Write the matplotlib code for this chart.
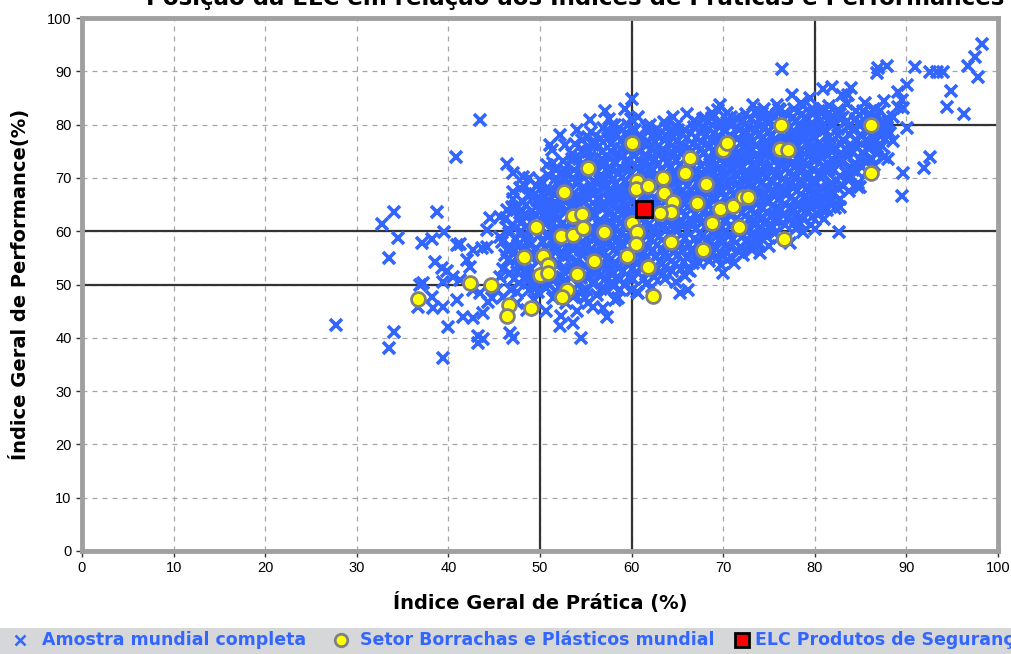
import matplotlib
matplotlib.use("Agg")
import matplotlib.pyplot as plt
from matplotlib.lines import Line2D
from matplotlib.patches import Rectangle

# ---- data ----
# amostra mundial completa: scattered points
amostra_dispersa = [
    (27.7, 42.4), (32.8, 61.3), (34.1, 63.6), (33.5, 55.0), (34.5, 58.7), (33.5, 38.1), (34.1, 41.1),
    (36.7, 45.8), (36.9, 49.9), (37.2, 50.3), (37.1, 57.8), (38.2, 58.5), (38.8, 63.6), (39.5, 59.8),
    (38.5, 54.2), (39.3, 53.1), (39.8, 52.5), (38.2, 47.7), (38.3, 45.6), (39.4, 45.8), (39.4, 36.2),
    (40.0, 42.0), (40.9, 47.1), (40.5, 51.4), (41.3, 50.8), (39.4, 50.5), (40.9, 57.4), (41.3, 57.6),
    (40.8, 73.9), (43.4, 80.9), (41.6, 43.9), (42.7, 43.7), (43.8, 44.7), (43.2, 40.4), (43.8, 39.8),
    (43.2, 39.0), (42.0, 54.6), (42.4, 53.3), (42.7, 56.5), (43.7, 56.8), (44.2, 57.0), (42.7, 49.0),
    (43.4, 48.4), (44.3, 46.7), (44.8, 47.5), (45.3, 49.0), (46.0, 47.7), (47.5, 46.5), (48.6, 45.2),
    (46.7, 40.9), (47.1, 40.0), (44.5, 62.5), (45.6, 62.7), (46.4, 64.0), (44.2, 60.2), (45.6, 58.9),
    (46.4, 56.5), (47.5, 55.2), (47.1, 67.4), (47.8, 68.1), (49.7, 65.9), (50.5, 65.3), (46.4, 72.6),
    (47.1, 70.9), (48.1, 70.2), (50.0, 69.6), (50.8, 72.4), (51.4, 72.8), (52.9, 71.1), (51.1, 76.2),
    (51.3, 75.2), (52.2, 78.0), (52.7, 76.2), (54.0, 79.0), (55.5, 80.9), (55.2, 77.7), (54.7, 75.2),
    (55.2, 74.9), (57.1, 82.6), (58.2, 79.9), (57.3, 78.6), (60.0, 84.8), (60.0, 79.0), (60.7, 81.4),
    (62.0, 79.9), (61.7, 79.5), (65.1, 79.0), (52.2, 42.2), (53.6, 42.8), (54.5, 40.0), (55.8, 45.8),
    (57.3, 43.9), (57.9, 49.9), (58.7, 49.0), (60.7, 48.4), (53.6, 47.7), (58.2, 47.1), (60.0, 49.0),
    (65.3, 48.4), (66.2, 49.0), (66.2, 52.7), (70.0, 52.2), (70.4, 54.6), (73.1, 56.5), (74.0, 55.9),
    (75.4, 60.8), (78.4, 61.5), (77.3, 57.8), (82.6, 59.8), (82.8, 64.5), (82.2, 64.3), (81.7, 65.3),
    (80.8, 65.5), (84.7, 68.3), (83.6, 70.0), (84.2, 71.5), (84.9, 68.3), (85.1, 74.7), (86.8, 75.8),
    (85.9, 76.7), (87.9, 79.5), (87.8, 78.6), (90.1, 79.4), (89.6, 70.9), (89.5, 66.6), (92.6, 73.9),
    (91.9, 71.9), (80.9, 86.7), (81.9, 87.0), (83.0, 85.6), (83.6, 85.6), (84.0, 86.9), (86.8, 89.7),
    (86.9, 90.6), (87.9, 91.0), (90.9, 90.8), (92.6, 89.9), (93.3, 89.9), (94.0, 89.9), (90.1, 87.4),
    (89.1, 86.1), (89.5, 84.6), (89.6, 83.1), (89.1, 83.3), (94.9, 86.3), (94.4, 83.3), (96.3, 82.0),
    (96.7, 91.0), (97.5, 92.7), (98.3, 95.1), (97.8, 88.9), (76.4, 90.4), (69.7, 83.7), (70.4, 82.2),
    (69.4, 82.7), (73.3, 83.7), (72.2, 80.9), (74.2, 82.2), (75.9, 83.7), (76.2, 82.7), (67.1, 80.3),
    (68.0, 81.2), (68.8, 82.2), (63.5, 80.5), (64.5, 81.5), (66.0, 82.0), (57.5, 81.0), (59.3, 83.0),
    (71.2, 54.0), (72.2, 55.5), (75.0, 57.2), (76.1, 58.7), (78.7, 59.8), (79.6, 61.2), (81.0, 62.3),
    (80.0, 60.5), (80.5, 82.5), (81.5, 83.5), (82.5, 82.8), (83.5, 83.8), (84.5, 82.5), (85.5, 84.0),
    (86.5, 83.0), (87.5, 84.5), (79.5, 85.0), (78.5, 84.0), (77.5, 85.5), (85.0, 80.0), (86.0, 82.0),
    (88.5, 81.5), (88.5, 77.0), (86.5, 72.5), (87.5, 74.0), (88.0, 73.5),
]

# amostra mundial completa: dense core
amostra_nucleo = [
    (46.2, 55.5), (45.8, 58.0), (46.5, 60.5), (46.0, 53.0), (46.8, 49.0), (45.6, 51.5), (46.3, 62.5),
    (47.1, 56.0), (47.4, 58.5), (46.9, 61.0), (47.6, 53.5), (47.2, 51.0), (47.8, 63.5), (47.0, 66.0), (47.5, 48.5),
    (48.2, 54.0), (48.0, 56.5), (48.5, 59.0), (47.9, 61.5), (48.3, 63.0), (48.6, 51.5), (48.1, 65.5), (48.4, 68.5), (48.8, 49.0),
    (49.0, 53.0), (49.3, 55.5), (48.9, 57.5), (49.4, 60.0), (49.1, 62.0), (49.6, 64.5), (49.2, 50.5), (49.5, 67.0), (48.8, 70.0), (49.3, 47.0),
    (50.1, 51.0), (50.4, 53.5), (49.9, 56.0), (50.3, 58.0), (50.0, 60.5), (50.5, 62.5), (50.2, 64.0), (50.6, 66.5), (49.8, 48.5), (50.3, 69.0), (50.7, 45.0),
    (51.0, 50.0), (51.3, 52.5), (51.1, 55.0), (51.5, 57.0), (50.9, 59.5), (51.4, 61.5), (51.2, 63.5), (51.6, 65.5), (51.0, 67.5), (51.4, 47.5), (51.8, 70.0),
    (52.1, 49.5), (52.4, 51.5), (52.0, 54.0), (52.5, 56.0), (52.2, 58.0), (52.6, 60.5), (52.0, 62.5), (52.3, 64.5), (52.7, 66.5), (52.1, 68.5), (52.5, 71.0), (52.8, 46.5), (52.3, 44.0),
    (53.0, 50.5), (53.4, 53.0), (53.1, 55.5), (53.6, 57.5), (53.2, 59.5), (53.5, 61.5), (53.0, 64.0), (53.7, 66.0), (53.3, 68.0), (53.6, 70.0), (53.1, 72.5), (53.8, 48.0), (53.5, 74.5),
    (54.1, 50.0), (54.4, 52.5), (54.0, 54.5), (54.5, 56.5), (54.2, 58.5), (54.7, 60.5), (54.1, 62.5), (54.4, 65.0), (54.8, 67.0), (54.2, 69.0), (54.6, 71.0), (54.3, 73.5), (54.9, 47.5), (54.0, 45.0),
    (55.1, 49.0), (55.4, 51.5), (55.0, 53.5), (55.6, 55.5), (55.2, 57.5), (55.5, 59.5), (55.0, 62.0), (55.7, 64.0), (55.3, 66.0), (55.6, 68.0), (55.1, 70.5), (55.8, 72.5), (55.4, 75.0), (55.2, 46.5), (55.9, 77.0),
    (56.0, 50.5), (56.3, 52.5), (56.1, 55.0), (56.6, 57.0), (56.2, 59.0), (56.5, 61.0), (56.0, 63.0), (56.7, 65.0), (56.3, 67.5), (56.6, 69.5), (56.1, 71.5), (56.8, 73.5), (56.4, 76.0), (56.2, 48.0), (56.9, 45.5),
    (57.1, 51.0), (57.4, 53.5), (57.0, 56.0), (57.5, 58.0), (57.2, 60.0), (57.6, 62.0), (57.1, 64.5), (57.7, 66.5), (57.3, 68.5), (57.6, 70.5), (57.0, 72.5), (57.8, 75.0), (57.4, 77.5), (57.2, 49.0), (57.9, 80.0),
    (58.0, 52.0), (58.3, 54.0), (58.1, 56.5), (58.6, 58.5), (58.2, 60.5), (58.5, 62.5), (58.0, 65.0), (58.7, 67.0), (58.3, 69.0), (58.6, 71.0), (58.1, 73.0), (58.8, 75.5), (58.4, 78.0), (58.2, 50.0), (58.5, 47.5),
    (59.1, 52.5), (59.4, 55.0), (59.0, 57.0), (59.5, 59.0), (59.2, 61.0), (59.6, 63.5), (59.1, 65.5), (59.7, 67.5), (59.3, 69.5), (59.6, 72.0), (59.0, 74.0), (59.8, 76.0), (59.4, 78.5), (59.2, 50.0), (59.9, 81.0),
    (60.0, 53.0), (60.3, 55.0), (60.1, 57.5), (60.6, 59.5), (60.2, 61.5), (60.5, 63.5), (60.0, 66.0), (60.7, 68.0), (60.3, 70.0), (60.6, 72.0), (60.1, 74.5), (60.8, 76.5), (60.4, 79.0), (60.2, 51.0), (60.6, 48.5),
    (61.1, 53.5), (61.4, 56.0), (61.0, 58.0), (61.5, 60.0), (61.2, 62.5), (61.6, 64.5), (61.1, 66.5), (61.7, 68.5), (61.3, 70.5), (61.6, 73.0), (61.0, 75.0), (61.8, 77.0), (61.4, 51.0),
    (62.0, 54.0), (62.3, 56.5), (62.1, 58.5), (62.6, 60.5), (62.2, 63.0), (62.5, 65.0), (62.0, 67.0), (62.7, 69.0), (62.3, 71.5), (62.6, 73.5), (62.1, 75.5), (62.8, 78.0), (62.4, 51.5), (62.2, 49.5),
    (63.1, 54.5), (63.4, 56.5), (63.0, 59.0), (63.5, 61.0), (63.2, 63.0), (63.6, 65.5), (63.1, 67.5), (63.7, 69.5), (63.3, 71.5), (63.6, 74.0), (63.0, 76.0), (63.8, 78.0), (63.4, 52.0),
    (64.0, 55.0), (64.3, 57.0), (64.1, 59.5), (64.6, 61.5), (64.2, 63.5), (64.5, 66.0), (64.0, 68.0), (64.7, 70.0), (64.3, 72.0), (64.6, 74.5), (64.1, 76.5), (64.8, 78.5), (64.4, 52.5), (64.9, 50.5),
    (65.1, 55.5), (65.4, 57.5), (65.0, 60.0), (65.5, 62.0), (65.2, 64.0), (65.6, 66.5), (65.1, 68.5), (65.7, 70.5), (65.3, 72.5), (65.6, 75.0), (65.0, 77.0), (65.8, 79.0), (65.4, 53.0),
    (66.0, 55.0), (66.3, 57.5), (66.1, 60.0), (66.6, 62.0), (66.2, 64.5), (66.5, 66.5), (66.0, 68.5), (66.7, 71.0), (66.3, 73.0), (66.6, 75.0), (66.1, 77.5), (66.8, 79.5), (66.4, 52.5),
    (67.1, 56.0), (67.4, 58.0), (67.0, 60.5), (67.5, 62.5), (67.2, 64.5), (67.6, 67.0), (67.1, 69.0), (67.7, 71.0), (67.3, 73.5), (67.6, 75.5), (67.0, 77.5), (67.8, 79.5), (67.4, 54.0),
    (68.0, 56.5), (68.3, 58.5), (68.1, 61.0), (68.6, 63.0), (68.2, 65.0), (68.5, 67.5), (68.0, 69.5), (68.7, 71.5), (68.3, 73.5), (68.6, 76.0), (68.1, 78.0), (68.8, 80.0), (68.4, 54.5),
    (69.1, 57.0), (69.4, 59.5), (69.0, 61.5), (69.5, 63.5), (69.2, 66.0), (69.6, 68.0), (69.1, 70.0), (69.7, 72.0), (69.3, 74.5), (69.6, 76.5), (69.0, 78.5), (69.8, 80.5), (69.4, 55.0),
    (70.0, 58.0), (70.3, 60.0), (70.1, 62.0), (70.6, 64.5), (70.2, 66.5), (70.5, 68.5), (70.0, 70.5), (70.7, 73.0), (70.3, 75.0), (70.6, 77.0), (70.1, 79.0), (70.8, 81.5), (70.4, 56.0),
    (71.1, 58.5), (71.4, 60.5), (71.0, 63.0), (71.5, 65.0), (71.2, 67.0), (71.6, 69.0), (71.1, 71.5), (71.7, 73.5), (71.3, 75.5), (71.6, 77.5), (71.0, 80.0), (71.8, 57.0),
    (72.0, 59.0), (72.3, 61.0), (72.1, 63.5), (72.6, 65.5), (72.2, 67.5), (72.5, 70.0), (72.0, 72.0), (72.7, 74.0), (72.3, 76.0), (72.6, 78.5), (72.1, 80.5), (72.8, 57.5),
    (73.1, 59.5), (73.4, 62.0), (73.0, 64.0), (73.5, 66.0), (73.2, 68.5), (73.6, 70.5), (73.1, 72.5), (73.7, 74.5), (73.3, 77.0), (73.6, 79.0), (73.0, 81.0), (73.8, 58.0),
    (74.0, 60.5), (74.3, 62.5), (74.1, 64.5), (74.6, 67.0), (74.2, 69.0), (74.5, 71.0), (74.0, 73.0), (74.7, 75.5), (74.3, 77.5), (74.6, 79.5), (74.1, 81.5), (74.8, 59.0),
    (75.1, 61.0), (75.4, 63.0), (75.0, 65.5), (75.5, 67.5), (75.2, 69.5), (75.6, 71.5), (75.1, 74.0), (75.7, 76.0), (75.3, 78.0), (75.6, 80.0), (75.0, 82.0),
    (76.0, 62.0), (76.3, 64.0), (76.1, 66.0), (76.6, 68.0), (76.2, 70.5), (76.5, 72.5), (76.0, 74.5), (76.7, 76.5), (76.3, 78.5), (76.6, 81.0), (76.1, 83.0),
    (77.1, 62.5), (77.4, 64.5), (77.0, 67.0), (77.5, 69.0), (77.2, 71.0), (77.6, 73.0), (77.1, 75.5), (77.7, 77.5), (77.3, 79.5), (77.6, 81.5), (77.9, 60.5),
    (78.0, 63.0), (78.3, 65.0), (78.1, 67.5), (78.6, 69.5), (78.2, 71.5), (78.5, 74.0), (78.0, 76.0), (78.7, 78.0), (78.3, 80.0), (78.6, 82.0), (78.2, 61.0),
    (79.1, 64.0), (79.4, 66.0), (79.0, 68.0), (79.5, 70.5), (79.2, 72.5), (79.6, 74.5), (79.1, 76.5), (79.7, 79.0), (79.3, 81.0), (79.8, 83.0),
    (80.0, 65.0), (80.3, 67.0), (80.1, 69.0), (80.6, 71.0), (80.2, 73.5), (80.5, 75.5), (80.0, 77.5), (80.7, 79.5), (80.3, 81.5), (80.4, 63.0),
    (81.1, 66.0), (81.4, 68.0), (81.0, 70.5), (81.5, 72.5), (81.2, 74.5), (81.6, 76.5), (81.1, 79.0), (81.7, 81.0), (81.3, 64.0),
    (82.0, 67.0), (82.3, 69.5), (82.1, 71.5), (82.6, 73.5), (82.2, 75.5), (82.5, 78.0), (82.0, 80.0), (82.7, 82.0),
    (83.1, 68.5), (83.4, 71.0), (83.0, 73.0), (83.5, 75.0), (83.2, 77.0), (83.6, 79.5), (83.1, 81.5),
    (84.0, 70.0), (84.3, 72.5), (84.1, 75.0), (84.6, 77.0), (84.2, 79.0), (84.5, 81.0),
    (85.1, 72.0), (85.4, 74.5), (85.0, 78.0), (85.6, 80.5), (85.3, 82.5),
    (86.2, 73.5), (86.5, 77.5), (86.0, 79.0), (86.8, 81.5),
    (87.3, 76.0), (87.6, 79.5), (87.1, 82.5), (87.8, 80.0),
    (88.2, 78.5), (88.0, 80.5),
]

# amostra mundial completa: dense core, in-between points
amostra_nucleo_b = [
    (46.7, 52.2), (46.5, 54.6), (46.8, 57.1), (46.6, 59.7), (46.9, 64.6),
    (47.7, 50.2), (47.5, 52.4), (47.8, 55.0), (47.6, 57.4), (47.9, 60.1), (47.7, 62.4), (47.5, 64.8),
    (48.7, 50.6), (48.5, 52.8), (48.8, 55.3), (48.6, 57.9), (48.9, 60.4), (48.7, 62.8), (48.5, 64.9), (48.8, 66.9),
    (49.7, 49.6), (49.5, 52.0), (49.8, 54.4), (49.6, 56.8), (49.9, 59.2), (49.7, 61.4), (49.5, 63.3), (49.8, 65.7), (49.6, 68.4),
    (50.7, 49.3), (50.5, 51.8), (50.8, 54.5), (50.6, 56.9), (50.9, 59.0), (50.7, 61.3), (50.5, 63.4), (50.8, 65.5), (50.6, 67.8), (50.9, 70.6),
    (51.7, 48.7), (51.5, 51.2), (51.8, 53.6), (51.6, 56.1), (51.9, 58.4), (51.7, 60.5), (51.5, 62.6), (51.8, 64.7), (51.6, 66.7), (51.9, 68.9), (51.7, 71.4),
    (52.7, 48.3), (52.5, 50.5), (52.8, 52.9), (52.6, 55.2), (52.9, 57.2), (52.7, 59.4), (52.5, 61.6), (52.8, 63.6), (52.6, 65.6), (52.9, 67.7), (52.7, 69.8), (52.5, 73.1),
    (53.7, 49.2), (53.5, 51.7), (53.8, 54.1), (53.6, 56.4), (53.9, 58.6), (53.7, 60.6), (53.5, 62.8), (53.8, 65.0), (53.6, 67.0), (53.9, 69.1), (53.7, 71.4), (53.5, 73.6), (53.8, 76.3),
    (54.7, 48.8), (54.5, 51.2), (54.8, 53.5), (54.6, 55.6), (54.9, 57.6), (54.7, 59.4), (54.5, 61.6), (54.8, 64.0), (54.6, 66.1), (54.9, 68.1), (54.7, 70.2), (54.5, 72.4), (54.8, 74.5), (54.6, 77.2),
    (55.7, 50.2), (55.5, 52.5), (55.8, 54.6), (55.6, 56.6), (55.9, 58.7), (55.7, 60.8), (55.5, 63.1), (55.8, 65.2), (55.6, 67.1), (55.9, 69.4), (55.7, 71.4), (55.5, 73.7), (55.8, 76.1), (55.6, 78.6),
    (56.7, 49.2), (56.5, 51.6), (56.8, 53.9), (56.6, 56.0), (56.9, 58.1), (56.7, 60.1), (56.5, 62.1), (56.8, 64.1), (56.6, 66.3), (56.9, 68.5), (56.7, 70.6), (56.5, 72.6), (56.8, 74.8), (56.6, 77.3), (56.9, 79.4),
    (57.7, 50.3), (57.5, 52.4), (57.8, 54.8), (57.6, 57.0), (57.9, 59.1), (57.7, 61.0), (57.5, 63.3), (57.8, 65.5), (57.6, 67.6), (57.9, 69.6), (57.7, 71.6), (57.5, 73.8), (57.8, 76.4), (57.6, 78.7),
    (58.7, 51.1), (58.5, 53.1), (58.8, 55.4), (58.6, 57.5), (58.9, 59.6), (58.7, 61.6), (58.5, 63.8), (58.8, 66.1), (58.6, 68.1), (58.9, 70.1), (58.7, 72.1), (58.5, 74.4), (58.8, 77.0), (58.6, 79.3),
    (59.7, 51.4), (59.5, 53.8), (59.8, 56.1), (59.6, 58.1), (59.9, 60.1), (59.7, 62.3), (59.5, 64.5), (59.8, 66.6), (59.6, 68.6), (59.9, 70.8), (59.7, 73.1), (59.5, 75.2), (59.8, 77.4), (59.6, 79.9),
    (60.7, 52.1), (60.5, 54.1), (60.8, 56.3), (60.6, 58.6), (60.9, 60.6), (60.7, 62.6), (60.5, 65.0), (60.8, 67.1), (60.6, 69.1), (60.9, 71.1), (60.7, 73.3), (60.5, 75.6), (60.8, 77.9),
    (61.7, 52.3), (61.5, 54.8), (61.8, 57.1), (61.6, 59.1), (61.9, 61.3), (61.7, 63.4), (61.5, 65.6), (61.8, 67.6), (61.6, 69.6), (61.9, 71.9), (61.7, 74.1), (61.5, 76.2), (61.8, 78.6), (61.6, 50.1),
    (62.7, 52.8), (62.5, 55.2), (62.8, 57.5), (62.6, 59.5), (62.9, 61.8), (62.7, 64.0), (62.5, 66.1), (62.8, 68.2), (62.6, 70.4), (62.9, 72.6), (62.7, 74.6), (62.5, 76.8), (62.8, 79.2),
    (63.7, 53.3), (63.5, 55.5), (63.8, 57.8), (63.6, 60.1), (63.9, 62.1), (63.7, 64.2), (63.5, 66.4), (63.8, 68.6), (63.6, 70.7), (63.9, 72.8), (63.7, 75.1), (63.5, 77.2), (63.8, 79.3), (63.6, 51.0),
    (64.7, 53.8), (64.5, 56.1), (64.8, 58.3), (64.6, 60.4), (64.9, 62.6), (64.7, 64.8), (64.5, 66.9), (64.8, 69.1), (64.6, 71.2), (64.9, 73.4), (64.7, 75.6), (64.5, 77.6), (64.8, 79.8),
    (65.7, 54.2), (65.5, 56.4), (65.8, 58.8), (65.6, 60.9), (65.9, 63.1), (65.7, 65.3), (65.5, 67.5), (65.8, 69.6), (65.6, 71.7), (65.9, 73.8), (65.7, 76.0), (65.5, 78.2), (65.8, 51.6),
    (66.7, 54.0), (66.5, 56.3), (66.8, 58.6), (66.6, 60.9), (66.9, 63.2), (66.7, 65.5), (66.5, 67.6), (66.8, 69.8), (66.6, 72.0), (66.9, 74.1), (66.7, 76.3), (66.5, 78.5), (66.8, 80.6),
    (67.7, 55.1), (67.5, 57.1), (67.8, 59.3), (67.6, 61.6), (67.9, 63.7), (67.7, 65.9), (67.5, 68.0), (67.8, 70.1), (67.6, 72.3), (67.9, 74.6), (67.7, 76.7), (67.5, 78.6), (67.8, 81.0),
    (68.7, 55.6), (68.5, 57.6), (68.8, 59.9), (68.6, 62.1), (68.9, 64.2), (68.7, 66.3), (68.5, 68.5), (68.8, 70.6), (68.6, 72.6), (68.9, 74.9), (68.7, 77.1), (68.5, 79.1), (68.8, 81.3),
    (69.7, 56.1), (69.5, 58.4), (69.8, 60.6), (69.6, 62.6), (69.9, 64.9), (69.7, 67.1), (69.5, 69.1), (69.8, 71.1), (69.6, 73.4), (69.9, 75.5), (69.7, 77.6), (69.5, 79.6), (69.8, 53.6),
    (70.7, 57.1), (70.5, 59.1), (70.8, 61.1), (70.6, 63.3), (70.9, 65.6), (70.7, 67.6), (70.5, 69.6), (70.8, 71.9), (70.6, 74.1), (70.9, 76.1), (70.7, 78.1), (70.5, 80.3), (70.8, 55.2),
    (71.7, 56.1), (71.5, 59.6), (71.8, 61.9), (71.6, 64.1), (71.9, 66.1), (71.7, 68.1), (71.5, 70.4), (71.8, 72.6), (71.6, 74.6), (71.9, 76.6), (71.7, 78.9), (71.5, 81.3),
    (72.7, 58.4), (72.5, 60.1), (72.8, 62.3), (72.6, 64.6), (72.9, 66.6), (72.7, 68.8), (72.5, 71.0), (72.8, 73.1), (72.6, 75.1), (72.9, 77.4), (72.7, 79.6), (72.5, 82.0),
    (73.7, 59.1), (73.5, 61.1), (73.8, 63.1), (73.6, 65.1), (73.9, 67.3), (73.7, 69.6), (73.5, 71.6), (73.8, 73.6), (73.6, 75.9), (73.9, 78.1), (73.7, 80.1), (73.5, 82.4), (73.8, 57.2),
    (74.7, 60.0), (74.5, 61.6), (74.8, 63.6), (74.6, 65.9), (74.9, 68.1), (74.7, 70.1), (74.5, 72.1), (74.8, 74.4), (74.6, 76.6), (74.9, 78.6), (74.7, 80.6), (74.5, 83.0),
    (75.7, 59.6), (75.5, 62.1), (75.8, 64.4), (75.6, 66.6), (75.9, 68.6), (75.7, 70.6), (75.5, 72.9), (75.8, 75.1), (75.6, 77.1), (75.9, 79.1), (75.7, 81.4),
    (76.7, 61.1), (76.5, 63.1), (76.8, 65.1), (76.6, 67.1), (76.9, 69.3), (76.7, 71.6), (76.5, 73.6), (76.8, 75.6), (76.6, 77.6), (76.9, 79.9), (76.7, 82.1),
    (77.7, 61.6), (77.5, 63.7), (77.8, 65.9), (77.6, 68.1), (77.9, 70.1), (77.7, 72.1), (77.5, 74.4), (77.8, 76.6), (77.6, 78.6), (77.9, 80.6), (77.7, 82.9),
    (78.7, 62.2), (78.5, 64.2), (78.8, 66.4), (78.6, 68.6), (78.9, 70.6), (78.7, 72.9), (78.5, 75.1), (78.8, 77.1), (78.6, 79.1), (78.9, 81.3), (78.7, 83.4),
    (79.7, 62.6), (79.5, 65.1), (79.8, 67.1), (79.6, 69.2), (79.9, 71.6), (79.7, 73.6), (79.5, 75.6), (79.8, 77.8), (79.6, 80.1), (79.9, 82.1),
    (80.7, 64.1), (80.5, 66.1), (80.8, 68.1), (80.6, 70.1), (80.9, 72.3), (80.7, 74.6), (80.5, 76.6), (80.8, 78.6), (80.6, 80.6), (80.9, 82.9),
    (81.7, 65.6), (81.5, 67.1), (81.8, 69.1), (81.6, 71.4), (81.9, 73.6), (81.7, 75.6), (81.5, 77.6), (81.8, 80.1), (81.6, 82.1),
    (82.7, 66.1), (82.5, 68.1), (82.8, 70.4), (82.6, 72.6), (82.9, 74.6), (82.7, 76.6), (82.5, 79.1), (82.8, 81.1),
    (83.7, 67.6), (83.5, 69.8), (83.8, 72.1), (83.6, 74.1), (83.9, 76.1), (83.7, 78.3), (83.5, 80.6),
    (84.7, 69.1), (84.5, 71.3), (84.8, 73.6), (84.6, 75.8), (84.9, 78.1), (84.7, 80.1),
    (85.7, 71.1), (85.5, 73.1), (85.8, 75.6), (85.6, 77.1), (85.9, 79.6), (85.7, 81.6),
    (86.7, 74.6), (86.5, 76.6), (86.8, 78.4), (86.6, 80.4),
    (87.7, 77.3), (87.5, 78.6), (87.9, 81.3),
]

# setor borrachas e plasticos mundial
setor = [
    (36.7, 47.3), (42.4, 50.3), (44.7, 49.9), (46.6, 46.2), (46.4, 44.1), (49.0, 45.6), (48.3, 55.2),
    (49.6, 60.8), (50.3, 55.3), (50.9, 53.7), (50.0, 51.8), (50.9, 52.2), (52.6, 67.4), (52.3, 59.1),
    (53.6, 59.3), (53.6, 62.9), (54.6, 63.2), (54.7, 60.6), (54.0, 52.0), (52.9, 49.0), (52.4, 47.7),
    (55.2, 71.9), (55.9, 54.4), (57.0, 59.8), (59.5, 55.3), (60.0, 61.5), (60.6, 59.8), (60.5, 57.6),
    (61.8, 53.3), (62.3, 47.8), (60.0, 76.5), (60.6, 69.4), (60.5, 67.9), (61.8, 68.5), (63.4, 70.0),
    (63.5, 67.2), (64.5, 65.5), (64.3, 63.6), (63.1, 63.4), (64.3, 58.0), (65.8, 70.9), (66.4, 73.8),
    (67.1, 65.3), (68.1, 68.9), (67.8, 56.5), (68.8, 61.6), (69.7, 64.2), (70.0, 75.2), (70.4, 76.5),
    (71.1, 64.7), (71.7, 60.7), (72.2, 66.4), (72.7, 66.4), (76.3, 79.9), (76.2, 75.4), (77.1, 75.2),
    (76.6, 58.5), (86.1, 79.9), (86.1, 70.9),
]

# ELC Produtos de Seguranca
elc = (61.3, 64.2)

x_ticks = [0, 10, 20, 30, 40, 50, 60, 70, 80, 90, 100]
y_ticks = [0, 10, 20, 30, 40, 50, 60, 70, 80, 90, 100]

legenda = ["Amostra mundial completa", "Setor Borrachas e Plásticos mundial", "ELC Produtos de Segurança"]

# ---- plot ----
azul = "#3366ff"
fig = plt.figure(figsize=(10.11, 6.54), dpi=100)
ax = fig.add_axes([82 / 1011, 1 - 551 / 654, 916 / 1011, 533 / 654])

ax.set_xlim(0, 100)
ax.set_ylim(0, 100)
ax.set_xticks(x_ticks)
ax.set_yticks(y_ticks)
ax.grid(True, color="#a6a6a6", linestyle=(0, (4, 4)), linewidth=0.9)
ax.set_axisbelow(True)

# quadrant lines
lc = "#333333"
ax.plot([0, 100], [60, 60], color=lc, lw=1.6, zorder=1.5)
ax.plot([60, 60], [0, 100], color=lc, lw=1.6, zorder=1.5)
ax.plot([0, 50], [50, 50], color=lc, lw=1.6, zorder=1.5)
ax.plot([50, 50], [0, 50], color=lc, lw=1.6, zorder=1.5)
ax.plot([80, 100], [80, 80], color=lc, lw=1.6, zorder=1.5)
ax.plot([80, 80], [80, 100], color=lc, lw=1.6, zorder=1.5)

pts = amostra_dispersa + amostra_nucleo + amostra_nucleo_b
ax.plot([p[0] for p in pts], [p[1] for p in pts], linestyle="none", marker="x",
        color=azul, markersize=9, markeredgewidth=2.6, zorder=2)
ax.plot([p[0] for p in setor], [p[1] for p in setor], linestyle="none", marker="o",
        markerfacecolor="#ffff00", markeredgecolor="#808080", markersize=10,
        markeredgewidth=2.0, zorder=3)
ax.plot([elc[0]], [elc[1]], linestyle="none", marker="s", markerfacecolor="#ff0000",
        markeredgecolor="black", markersize=12, markeredgewidth=2.0, zorder=4)

for s in ax.spines.values():
    s.set_color("#a0a0a0")
    s.set_linewidth(3.5)
ax.tick_params(axis="both", direction="out", length=4, width=1, color="#333333",
               labelsize=10.5, labelcolor="black")
for lab in ax.get_xticklabels() + ax.get_yticklabels():
    lab.set_fontfamily("Liberation Sans")

ax.set_xlabel("Índice Geral de Prática (%)", fontsize=14, fontweight="heavy", labelpad=12)
ax.set_ylabel("Índice Geral de Performance(%)", fontsize=14, fontweight="heavy", labelpad=12)

fig.text(575 / 1011, 1 - 5 / 654, "Posição da ELC em relação aos Índices de Práticas e Performances",
         ha="center", va="baseline", fontsize=16.5, fontweight="heavy")

# legend band
fig.add_artist(Rectangle((0, 0), 1, 26 / 654, transform=fig.transFigure,
                         facecolor="#d6d7d9", edgecolor="none", zorder=0))
ly = 1 - 640 / 654
fig.add_artist(Line2D([20 / 1011], [ly], transform=fig.transFigure, marker="x", color=azul,
                      markersize=7, markeredgewidth=1.8, linestyle="none"))
fig.add_artist(Line2D([341 / 1011], [ly], transform=fig.transFigure, marker="o",
                      markerfacecolor="#ffff00", markeredgecolor="#808080", markersize=9,
                      markeredgewidth=2, linestyle="none"))
fig.add_artist(Line2D([742 / 1011], [ly], transform=fig.transFigure, marker="s",
                      markerfacecolor="#ff0000", markeredgecolor="black", markersize=10,
                      markeredgewidth=2, linestyle="none"))
for xpos, txt in zip([42, 360, 755], legenda):
    fig.text(xpos / 1011, ly, txt, ha="left", va="center", fontsize=12.5,
             fontweight="bold", color=azul)

fig.savefig("out.png", dpi=100)
